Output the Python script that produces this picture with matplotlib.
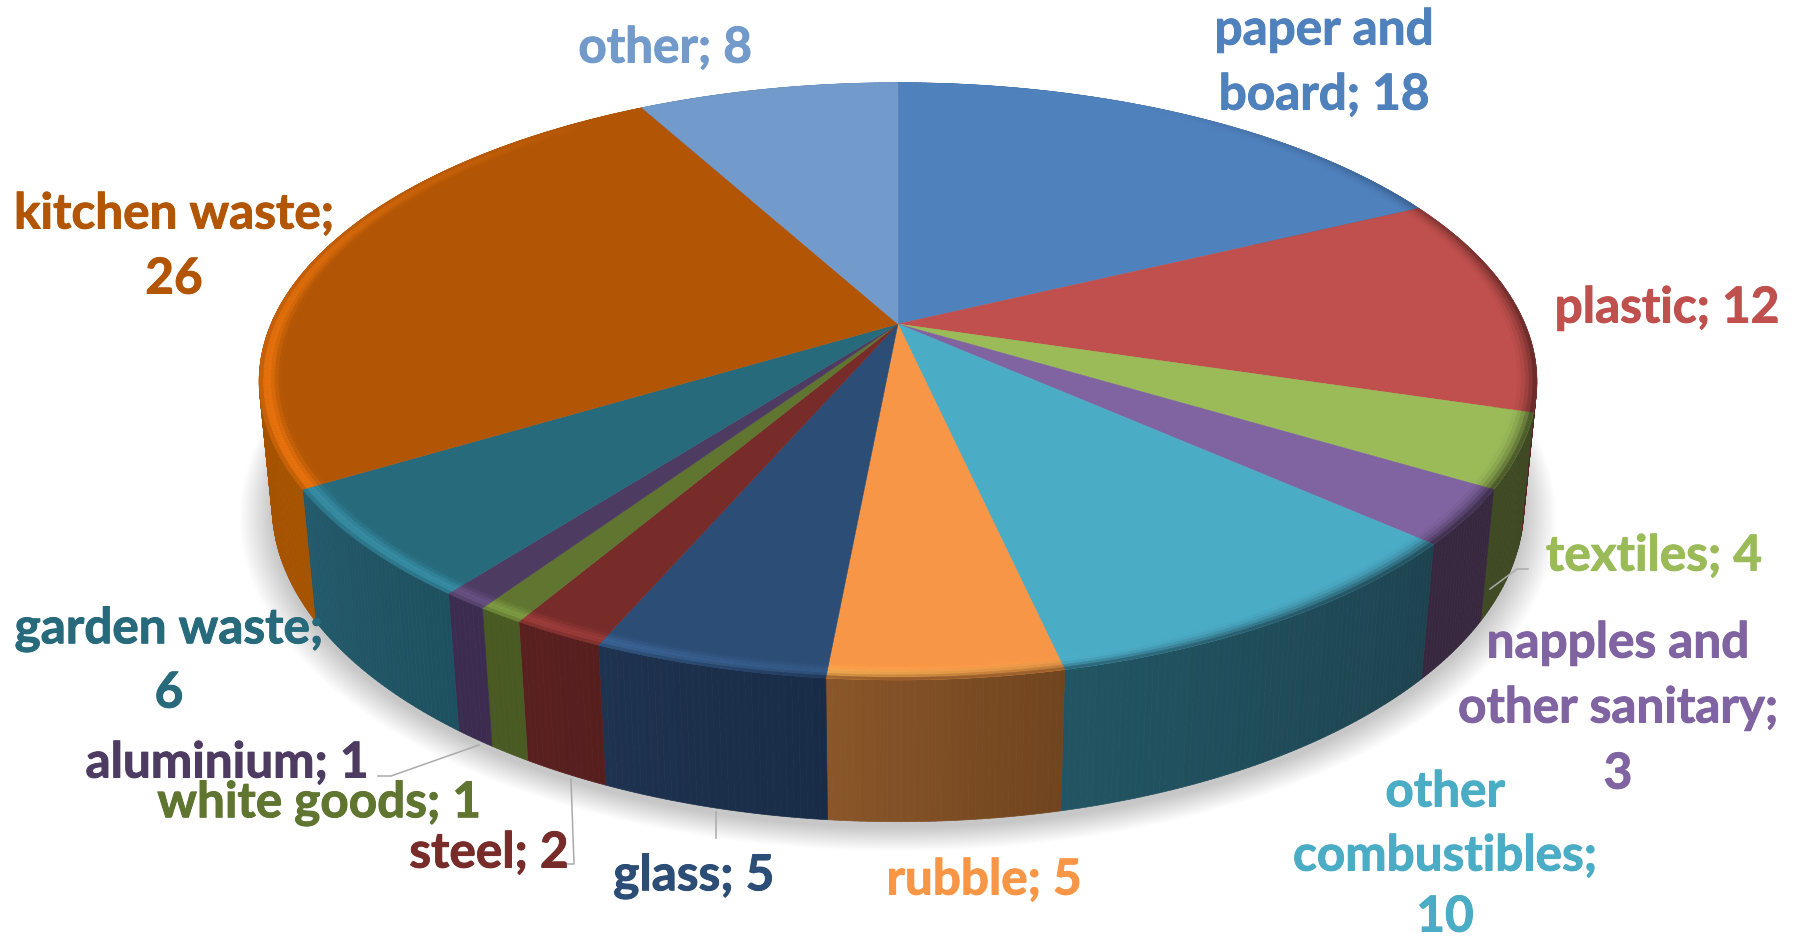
import numpy as np
import matplotlib
matplotlib.use('Agg')
import matplotlib.pyplot as plt
import matplotlib.patheffects as pe
from matplotlib.collections import PolyCollection
from matplotlib.colors import to_rgb

# waste composition, clockwise from 12 o'clock
categories = ['paper and board', 'plastic', 'textiles', 'napples and other sanitary',
              'other combustibles', 'rubble', 'glass', 'steel', 'white goods',
              'aluminium', 'garden waste', 'kitchen waste', 'other']
values = [18, 12, 4, 3, 10, 5, 5, 2, 1, 1, 6, 26, 8]

top_colors = ['#4F81BD', '#C0504D', '#9BBB59', '#8064A2', '#4BACC6', '#F79646', '#2C4D75',
              '#772C2A', '#5F7530', '#4D3B62', '#276A7C', '#B25606', '#729ACA']
wall_start = ['#2C4A70', '#5A2523', '#3F4A24', '#372840', '#1E4350', '#70451F', '#192C47',
              '#561F1E', '#4A5A23', '#3C2D50', '#1E5160', '#A65300', '#4E6E96']
wall_end = ['#2C4A70', '#5A2523', '#3F4A24', '#372840', '#225563', '#8B562A', '#1E3350',
            '#5A2020', '#4A5A23', '#3C2D50', '#235A6B', '#A65300', '#4E6E96']

# label text lines, centre of each line in pixels
label_lines = [
    (['paper and', 'board; 18'], 1324, [30, 95], 0),
    (['plastic; 12'], 1667, [308], 1),
    (['textiles; 4'], 1654, [556], 2),
    (['napples and', 'other sanitary;', '3'], 1618, [643, 708, 774], 3),
    (['other', 'combustibles;', '10'], 1445, [792, 856, 917], 4),
    (['rubble; 5'], 984, [880], 5),
    (['glass; 5'], 694, [876], 6),
    (['steel; 2'], 489, [853], 7),
    (['white goods; 1'], 319, [803], 8),
    (['aluminium; 1'], 227, [763], 9),
    (['garden waste;', '6'], 169, [629, 693], 10),
    (['kitchen waste;', '26'], 174, [214, 279], 11),
    (['other; 8'], 665, [48], 12),
]
leaders = [
    ([1490, 1517, 1528], [589, 569, 569]),
    ([479, 391, 378], [745, 776, 776]),
    ([571, 574, 560], [779, 864, 864]),
    ([716, 716], [812, 838]),
]

CX, CY = 898, 324
A, B, K = 627, 287.6, 0.192
M, C = 0.02, 124.5
RIM = 0.965


def project(theta, r=1.0, depth=0.0):
    # depth 0 is the top face, 1 the bottom face
    x = r * np.sin(theta)
    y = r * np.cos(theta)
    w = 1 + K * y + M * depth
    return CX + A * x / w, CY + (-B * y + C * depth) / w


def mix(c1, c2, t):
    return tuple((1 - t) * a + t * b for a, b in zip(c1, c2))


plt.rcParams['font.family'] = ['Lato', 'DejaVu Sans']
fig = plt.figure(figsize=(18.01, 9.38), dpi=100)
ax = fig.add_axes([0, 0, 1, 1])
ax.set_xlim(0, 1801)
ax.set_ylim(938, 0)
ax.axis('off')

edges = np.cumsum([0] + values) / sum(values) * 2 * np.pi

# soft shadow
circle = np.linspace(0, 2 * np.pi, 360)
for s in np.linspace(0.05, 0.0, 28):
    sx, sy = project(circle, 1 + s, 1.0)
    ax.fill(sx, sy + 6, color='black', alpha=0.0065, lw=0, zorder=1)

# side wall, drawn as thin strips so the shade can change along it
wall_polys, wall_cols = [], []
for i in range(len(values)):
    n = max(3, int(np.degrees(edges[i + 1] - edges[i]) / 0.5))
    th = np.linspace(edges[i], edges[i + 1], n + 1)
    x0, y0 = project(th)
    x1, y1 = project(th, 1.0, 1.0)
    c0, c1 = to_rgb(wall_start[i]), to_rgb(wall_end[i])
    for j in range(n):
        wall_polys.append([(x0[j], y0[j]), (x0[j + 1], y0[j + 1]), (x1[j + 1], y1[j + 1]), (x1[j], y1[j])])
        wall_cols.append(mix(c0, c1, j / n))
ax.add_collection(PolyCollection(wall_polys, facecolors=wall_cols, edgecolors=wall_cols, linewidths=0.5, zorder=2))

# top face
for i in range(len(values)):
    th = np.linspace(edges[i], edges[i + 1], 100)
    x, y = project(th)
    ax.fill(np.r_[CX, x], np.r_[CY, y], color=top_colors[i], lw=0.3, zorder=3)

# bevel round the rim of the top face
rim_polys, rim_cols = [], []
bands = np.linspace(RIM, 1.0, 7)
for i in range(len(values)):
    n = max(3, int(np.degrees(edges[i + 1] - edges[i]) / 0.5))
    th = np.linspace(edges[i], edges[i + 1], n + 1)
    top = to_rgb(top_colors[i])
    shade = to_rgb(wall_start[i])
    for j in range(n):
        t = th[j:j + 2]
        px, py = np.sin(t.mean()), np.cos(t.mean())
        for b in range(len(bands) - 1):
            u = (b + 0.5) / (len(bands) - 1)
            xa, ya = project(t, bands[b])
            xb, yb = project(t, bands[b + 1])
            light = np.clip(-px * 0.9 - py * 0.6, 0, 1)
            dark = np.clip(px * 0.95 - py * 0.5, 0, 1)
            gain = 1 + 0.28 * light * np.sin(np.pi * u ** 1.6)
            col = tuple(min(1.0, v * gain + 0.02 * light * np.sin(np.pi * u ** 1.6)) for v in top)
            col = mix(col, shade, dark * u ** 2)
            if py < 0.2 and abs(px) < 0.35:
                col = mix(col, shade, (1 - abs(px) / 0.35) * max(0, u - 0.7) / 0.3 * 0.8)
            rim_polys.append([(xa[0], ya[0]), (xa[1], ya[1]), (xb[1], yb[1]), (xb[0], yb[0])])
            rim_cols.append(col)
ax.add_collection(PolyCollection(rim_polys, facecolors=rim_cols, edgecolors=rim_cols, linewidths=0.3, zorder=4))

# leader lines
for lx, ly in leaders:
    ax.plot(lx, ly, color='#ABABAB', lw=1.1, zorder=5)

# data labels
for lines, xc, ys, idx in label_lines:
    for line, yc in zip(lines, ys):
        ax.text(xc, yc, line, color=top_colors[idx], fontsize=35.6, fontweight='bold',
                ha='center', va='center', zorder=6,
                path_effects=[pe.withStroke(linewidth=0.7, foreground=top_colors[idx])])

fig.savefig('out.png', dpi=100, facecolor='white')
